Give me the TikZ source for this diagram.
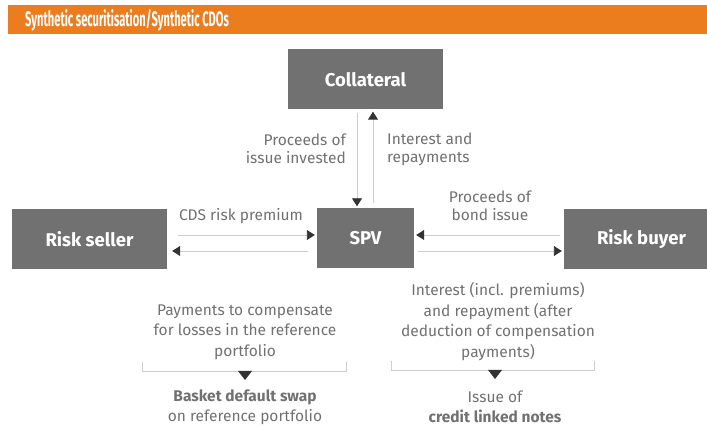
\documentclass[tikz,border=0pt]{standalone}
\usepackage{fontspec}
\setmainfont{Fira Sans}
\newfontfamily\titlefont[FakeStretch=0.53]{Fira Sans}
\usetikzlibrary{arrows.meta,calc}
\definecolor{barorange}{HTML}{EC7D1F}
\definecolor{boxgray}{HTML}{717171}
\definecolor{txtgray}{HTML}{717171}
\definecolor{linegray}{HTML}{CDCDCD}
\definecolor{tipgray}{HTML}{333333}
\begin{document}
\begin{tikzpicture}[x=1pt, y=-1pt,
    box/.style={fill=boxgray, text=white, minimum width=155pt, minimum height=60pt,
      inner sep=0pt, font=\fontsize{18.5}{20}\selectfont\bfseries},
    flow/.style={draw=linegray, line width=0.9pt, -{Triangle[length=8pt,width=10pt,color=tipgray]},
      shorten <=3pt, shorten >=2pt},
    lbl/.style={text=txtgray, inner sep=0pt, font=\fontsize{15.5}{18}\selectfont},
    note/.style={text=txtgray, inner sep=0pt, align=center, font=\fontsize{15.5}{20.5}\selectfont},
    bracketline/.style={draw=linegray, line width=0.9pt}]
  \clip (0,0) rectangle (707,427);

  % 1. title bar
  \fill[barorange] (8,5) rectangle (707,34);
  \node[anchor=west, text=white, inner sep=0pt, font=\titlefont\fontsize{21}{22}\selectfont\bfseries]
    (title) at (25,20) {Synthetic securitisation/Synthetic CDOs};

  % 2. boxes
  \node[box] (coll) at (365.5,79.5) {Collateral};
  \node[box, minimum width=97pt] (spv) at (365.5,238.5) {SPV};
  \node[box] (seller) at (89.5,239) {Risk seller};
  \node[box] (buyer) at (641.5,239) {Risk buyer};

  % 3. collateral <-> SPV
  \draw[flow] ($(coll.south)+(-8.5,0)$) -- ($(spv.north)+(-8.5,0)$);
  \draw[flow, shorten <=5pt] ($(spv.north)+(7.5,0)$) -- ($(coll.south)+(7.5,0)$);
  \node[lbl, anchor=east, align=right] (invested) at (346,149) {Proceeds of\\issue invested};
  \node[lbl, anchor=west, align=left] (repay) at (387,149) {Interest and\\repayments};

  % 4. risk seller <-> SPV
  \draw[flow, shorten <=11pt] ($(seller.east)+(0,-4)$) -- ($(spv.west)+(0,-3.5)$);
  \draw[flow, shorten <=9pt, shorten >=5pt] ($(spv.west)+(0,12.5)$) -- ($(seller.east)+(0,12)$);
  \node[lbl] (premium) at (241,216) {CDS risk premium};

  % 5. SPV <-> risk buyer
  \draw[flow, shorten <=4pt] ($(buyer.west)+(0,-4)$) -- ($(spv.east)+(0,-3.5)$);
  \draw[flow, shorten <=4pt] ($(spv.east)+(0,12.5)$) -- ($(buyer.west)+(0,12)$);
  \node[lbl, align=center] (bond) at (490,206) {Proceeds of\\bond issue};

  % 6. basket default swap
  \node[note] (losses) at (245,332) {Payments to compensate\\for losses in the reference\\portfolio};
  \draw[bracketline] (142,362) -- (142,371) -- (346,371) -- (346,362);
  \fill[tipgray] (238,371) -- (252,371) -- (245,380) -- cycle;
  \node[note] (swap) at (245,407.5) {\textbf{Basket default swap}\\on reference portfolio};

  % 7. credit linked notes
  \node[note] (interest) at (498,321.5) {Interest (incl. premiums)\\and repayment (after\\deduction of compensation\\payments)};
  \draw[bracketline] (391,361) -- (391,370) -- (594,370) -- (594,361);
  \fill[tipgray] (488,370) -- (502,370) -- (495,379) -- cycle;
  \node[note] (notes) at (495,407) {Issue of\\\textbf{credit linked notes}};
\end{tikzpicture}
\end{document}
